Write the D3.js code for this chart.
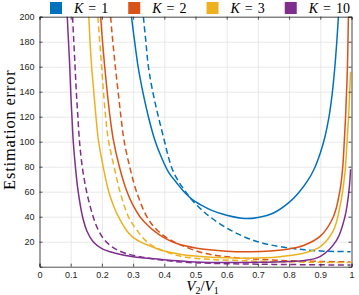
<!DOCTYPE html>
<html>
<head>
<meta charset="utf-8">
<script src="https://cdn.jsdelivr.net/npm/d3@7"></script>
<style>
  html, body { margin: 0; padding: 0; background: #fff; }
  svg { display: block; }
</style>
</head>
<body>
<div id="chart"></div>
<script>
// values, [V2/V1, error]
const k1Solid = [[0.29,215],[0.295,200],[0.305,180],[0.316,160],[0.331,140],[0.349,120],[0.37,101],[0.39,88],[0.415,75],[0.44,67],[0.461,60.5],[0.488,54],[0.52,49],[0.55,45.3],[0.6,41.2],[0.66,38.5],[0.7,39.4],[0.75,43],[0.8,51.5],[0.83,59],[0.86,69],[0.88,78],[0.9,91],[0.915,104],[0.928,120],[0.938,138],[0.946,158],[0.952,177],[0.958,200],[0.961,215]];
const k1Dashed = [[0.329,215],[0.333,200],[0.341,180],[0.349,160],[0.363,140],[0.381,120],[0.4,101],[0.414,87],[0.429,76],[0.45,66.5],[0.47,59.5],[0.488,53.5],[0.52,45.5],[0.546,40],[0.6,31],[0.663,23.2],[0.73,18],[0.8,15],[0.85,13.5],[0.9,12.6],[0.95,12.2],[0.997,12]];
const k2Solid = [[0.191,215],[0.196,200],[0.202,180],[0.209,160],[0.217,140],[0.226,120],[0.237,101],[0.256,80],[0.279,61],[0.30,49],[0.322,40],[0.345,33.5],[0.365,29],[0.40,23],[0.44,18.5],[0.5,15],[0.6,12.4],[0.68,12],[0.74,12.6],[0.8,14.2],[0.846,17],[0.9,24.5],[0.942,40],[0.963,61],[0.972,80],[0.977,101],[0.981,120],[0.987,160],[0.99,200],[0.991,215]];
const k2Dashed = [[0.225,215],[0.228,200],[0.235,180],[0.243,160],[0.252,140],[0.261,120],[0.271,101],[0.289,80],[0.311,60],[0.344,40],[0.37,31],[0.4,24.5],[0.43,20],[0.461,16.5],[0.525,11],[0.6,8],[0.707,5.9],[0.8,4.8],[0.9,4.2],[0.997,3.8]];
const k3Solid = [[0.154,215],[0.158,200],[0.162,180],[0.167,160],[0.174,140],[0.181,120],[0.189,101],[0.204,80],[0.222,60],[0.24,47],[0.253,40],[0.279,29],[0.30,23.5],[0.33,19],[0.365,15.5],[0.40,12.5],[0.45,10],[0.5,8.5],[0.55,7.5],[0.65,6.8],[0.72,7.1],[0.771,8],[0.846,10.7],[0.9,16],[0.942,29],[0.963,48],[0.979,75],[0.986,101],[0.991,122],[0.997,156]];
const k3Dashed = [[0.184,215],[0.187,200],[0.193,180],[0.199,160],[0.205,140],[0.212,120],[0.221,101],[0.239,80],[0.258,60],[0.285,40],[0.31,30],[0.344,20],[0.376,15],[0.45,8.5],[0.546,5.9],[0.653,4.8],[0.8,3.8],[0.997,3.3]];
const k10Solid = [[0.087,215],[0.089,200],[0.093,180],[0.097,160],[0.10,140],[0.104,120],[0.108,101],[0.115,80],[0.124,60],[0.138,40],[0.153,28],[0.172,20],[0.20,14.5],[0.24,11],[0.30,8],[0.386,5.9],[0.5,3.8],[0.6,3.3],[0.7,3.5],[0.8,4.2],[0.85,5],[0.899,8],[0.952,21],[0.979,40],[0.992,61],[0.997,78]];
const k10Dashed = [[0.104,215],[0.106,200],[0.110,180],[0.114,160],[0.118,140],[0.123,120],[0.128,101],[0.137,80],[0.151,60],[0.172,40],[0.19,28.5],[0.21,21],[0.235,15.5],[0.27,11.2],[0.322,8],[0.376,5.9],[0.45,3.8],[0.55,2.7],[0.7,2],[0.85,1.6],[0.997,1.3]];

const kLabels = ["1", "2", "3", "10"];
const colors = ["#0072BD", "#D95319", "#EDB120", "#7E2F8E"];
const xTicks = [0, 0.1, 0.2, 0.3, 0.4, 0.5, 0.6, 0.7, 0.8, 0.9, 1];
const yTicks = [20, 40, 60, 80, 100, 120, 140, 160, 180, 200];

const solids = [k1Solid, k2Solid, k3Solid, k10Solid];
const dashes = [k1Dashed, k2Dashed, k3Dashed, k10Dashed];

const W = 359, H = 295;
const margin = { top: 16.7, right: 7.5, bottom: 28.3, left: 39.5 };
const width = W - margin.left - margin.right,
      height = H - margin.top - margin.bottom;

const svg = d3.select("#chart").append("svg")
    .attr("width", W).attr("height", H);

const x = d3.scaleLinear().domain([0, 1]).range([0, width]);
const y = d3.scaleLinear().domain([0, 200]).range([height, 0]);

const g = svg.append("g")
    .attr("transform", `translate(${margin.left},${margin.top})`);

// grid
g.append("g").attr("class", "grid")
    .attr("transform", `translate(0,${height})`)
    .call(d3.axisBottom(x).tickValues(xTicks).tickSize(-height).tickFormat(""));
g.append("g").attr("class", "grid")
    .call(d3.axisLeft(y).tickValues(yTicks).tickSize(-width).tickFormat(""));
g.selectAll(".grid .domain").remove();
g.selectAll(".grid line").attr("stroke", "#e2e2e2").attr("stroke-width", 0.8);

g.append("clipPath").attr("id", "plotClip")
  .append("rect").attr("width", width).attr("height", height);

const line = d3.line()
    .x(d => x(d[0]))
    .y(d => y(d[1]))
    .curve(d3.curveCatmullRom.alpha(0.5));

const curves = g.append("g").attr("clip-path", "url(#plotClip)");
solids.forEach((s, i) => {
  curves.append("path").datum(s)
    .attr("d", line).attr("fill", "none")
    .attr("stroke", colors[i]).attr("stroke-width", 1.5);
  curves.append("path").datum(dashes[i])
    .attr("d", line).attr("fill", "none")
    .attr("stroke", colors[i]).attr("stroke-width", 1.5)
    .attr("stroke-dasharray", "6,3.5");
});

// axes with inward ticks
const axisColor = "#262626";
const xAxis = g.append("g").attr("transform", `translate(0,${height})`)
    .call(d3.axisBottom(x).tickValues(xTicks).tickSize(-3).tickPadding(5)
      .tickFormat(d => d === 0 || d === 1 ? d3.format("d")(d) : d3.format(".1f")(d)));
const yAxis = g.append("g")
    .call(d3.axisLeft(y).tickValues(yTicks).tickSize(-3).tickPadding(5));
const xTop = g.append("g")
    .call(d3.axisTop(x).tickValues(xTicks).tickSize(-3).tickFormat(""));
const yRight = g.append("g").attr("transform", `translate(${width},0)`)
    .call(d3.axisRight(y).tickValues(yTicks).tickSize(-3).tickFormat(""));

[xAxis, yAxis, xTop, yRight].forEach(a => {
  a.select(".domain").attr("stroke", axisColor).attr("stroke-width", 0.8);
  a.selectAll(".tick line").attr("stroke", axisColor).attr("stroke-width", 0.8);
  a.selectAll("text").attr("fill", axisColor)
    .style("font-family", "'Liberation Sans', Arial, sans-serif")
    .style("font-size", "9px");
});

// axis labels
svg.append("text")
    .attr("transform", `translate(14.5,${margin.top + height / 2 - 12}) rotate(-90)`)
    .attr("text-anchor", "middle")
    .style("font-family", "'Liberation Serif', 'Times New Roman', serif")
    .style("font-size", "16.5px")
    .style("letter-spacing", "0.8px")
    .attr("fill", "#000")
    .text("Estimation error");

const xl = svg.append("text")
    .attr("x", margin.left + width / 2 + 7)
    .attr("y", 291)
    .attr("text-anchor", "middle")
    .style("font-family", "'Liberation Serif', 'Times New Roman', serif")
    .style("font-size", "15px")
    .attr("fill", "#000");
xl.append("tspan").style("font-style", "italic").text("V");
xl.append("tspan").attr("dy", 3).style("font-size", "10px").text("2");
xl.append("tspan").attr("dy", -3).text("/");
xl.append("tspan").style("font-style", "italic").text("V");
xl.append("tspan").attr("dy", 3).style("font-size", "10px").text("1");

// legend
const legend = svg.append("g");
let lx = 50;
kLabels.forEach((k, i) => {
  legend.append("rect")
    .attr("x", lx).attr("y", 2).attr("width", 12).attr("height", 12)
    .attr("fill", colors[i]);
  const t = legend.append("text")
    .attr("x", lx + 24).attr("y", 12.5)
    .style("font-family", "'Liberation Serif', 'Times New Roman', serif")
    .style("font-size", "14px")
    .attr("fill", "#000");
  t.append("tspan").style("font-style", "italic").text("K");
  t.append("tspan").attr("dx", 5).text("=");
  t.append("tspan").attr("dx", 5).text(k);
  lx = lx + 24 + t.node().getComputedTextLength() + 10 + 20;
});
</script>
</body>
</html>
